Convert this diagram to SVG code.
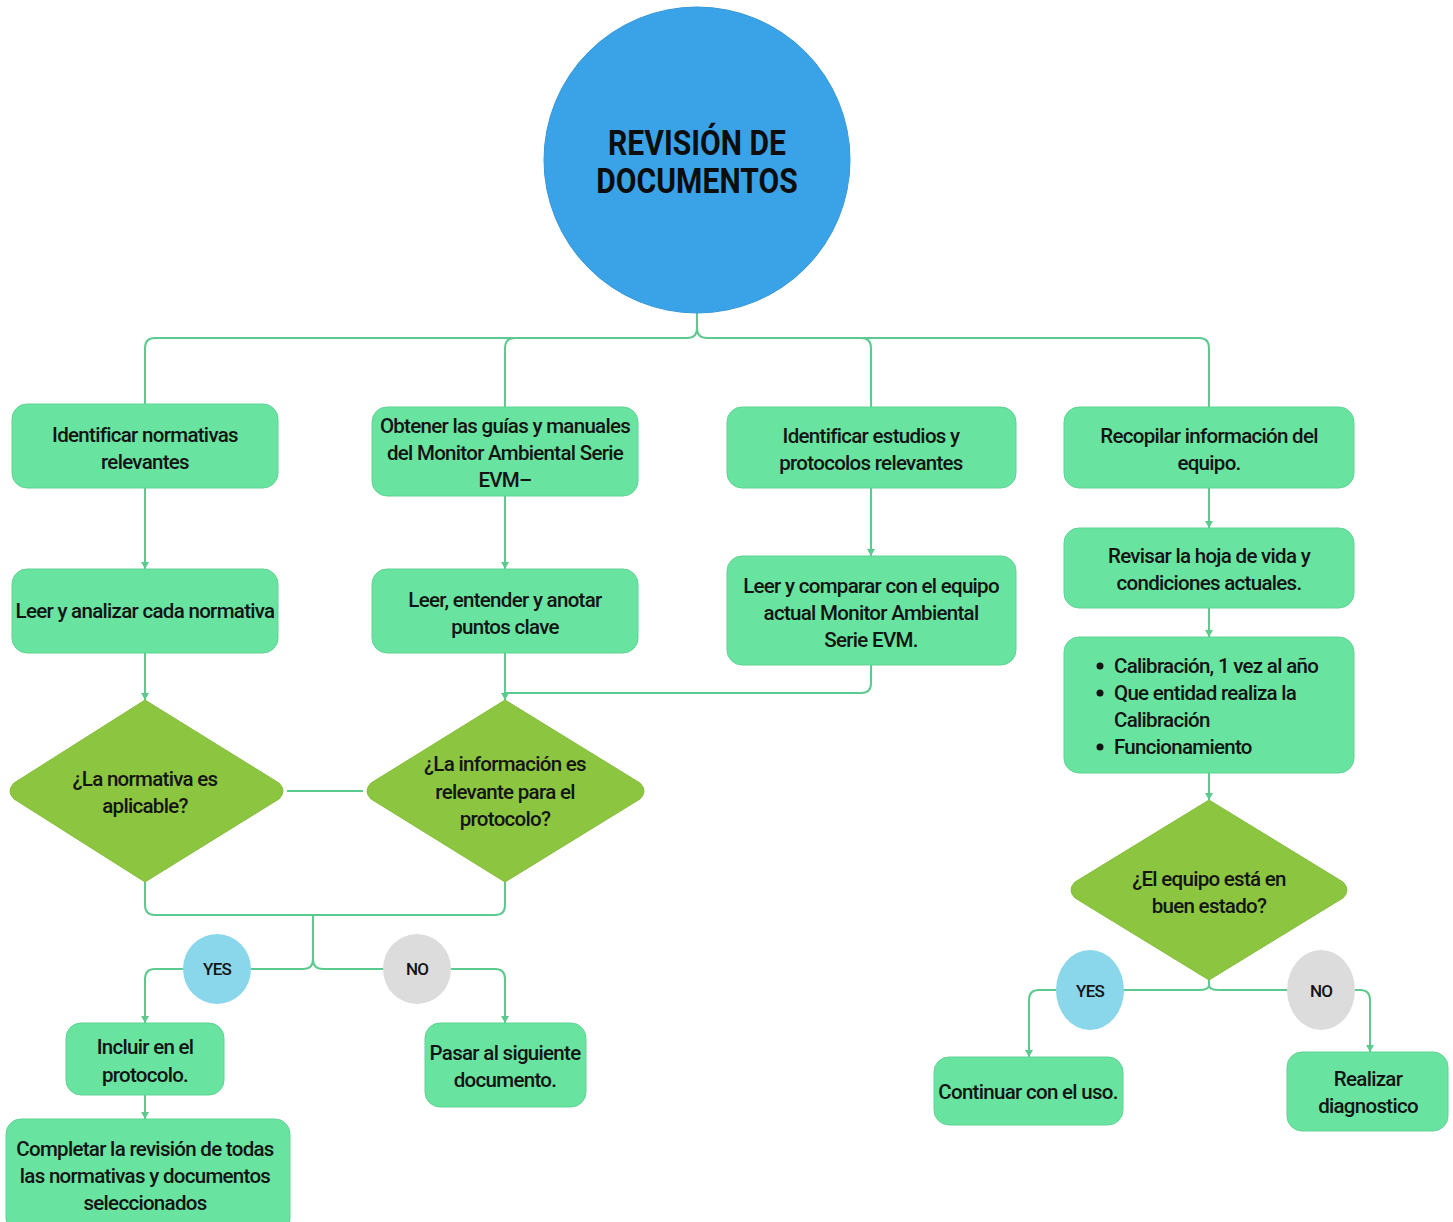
<svg xmlns="http://www.w3.org/2000/svg" width="1453" height="1222" viewBox="0 0 1453 1222">
<defs>
<style>
.box{fill:#69E3A0;stroke:#5ED394;stroke-width:1}
.dia{fill:#8CC640;stroke:#86BE3D;stroke-width:1;stroke-linejoin:round}
.t{font-family:Roboto,"Liberation Sans",sans-serif;font-size:20.5px;font-weight:500;fill:#141414;text-anchor:middle;letter-spacing:-0.7px}
.tl{text-anchor:start}
.lbl{font-family:Roboto,"Liberation Sans",sans-serif;font-size:17px;font-weight:500;fill:#141414;text-anchor:middle;letter-spacing:-0.8px}
.title{font-family:Roboto,"Liberation Sans",sans-serif;font-size:35px;font-weight:bold;fill:#0d0d0d;text-anchor:middle}
.c{fill:none;stroke:#5CC98F;stroke-width:2}
</style>
<marker id="ad" markerUnits="userSpaceOnUse" markerWidth="10" markerHeight="8" refX="5" refY="8" orient="0" viewBox="0 0 10 8">
<path d="M1,1 L9,1 L5,8 Z" fill="#5CC98F"/>
</marker>
</defs>
<rect width="1453" height="1222" fill="#ffffff"/>

<g id="connectors">
<path class="c" d="M697,313 V328 Q697,338 687,338 H155 Q145,338 145,348 V404"/>
<path class="c" d="M697,328 Q697,338 707,338 H1199 Q1209,338 1209,348 V407"/>
<path class="c" d="M515,338 Q505,338 505,348 V407"/>
<path class="c" d="M861,338 Q871,338 871,348 V407"/>
<path class="c" d="M145,488 V569" marker-end="url(#ad)"/>
<path class="c" d="M505,496 V569" marker-end="url(#ad)"/>
<path class="c" d="M871,488 V556" marker-end="url(#ad)"/>
<path class="c" d="M145,653 V700" marker-end="url(#ad)"/>
<path class="c" d="M505,653 V700" marker-end="url(#ad)"/>
<path class="c" d="M871,665 V683 Q871,693 861,693 H505"/>
<path class="c" d="M287,791 H363"/>
<path class="c" d="M145,882 V905 Q145,915 155,915 H495 Q505,915 505,905 V882"/>
<path class="c" d="M313,915 V959 Q313,969 303,969 H251"/>
<path class="c" d="M313,959 Q313,969 323,969 H384"/>
<path class="c" d="M183,969 H155 Q145,969 145,979 V1023" marker-end="url(#ad)"/>
<path class="c" d="M451,969 H495 Q505,969 505,979 V1023" marker-end="url(#ad)"/>
<path class="c" d="M145,1095 V1119" marker-end="url(#ad)"/>
<path class="c" d="M1209,488 V528" marker-end="url(#ad)"/>
<path class="c" d="M1209,608 V637" marker-end="url(#ad)"/>
<path class="c" d="M1209,773 V800" marker-end="url(#ad)"/>
<path class="c" d="M1209,980 V985 Q1209,990 1199,990 H1124"/>
<path class="c" d="M1209,985 Q1209,990 1219,990 H1288"/>
<path class="c" d="M1056,990 H1039 Q1029,990 1029,1000 V1057" marker-end="url(#ad)"/>
<path class="c" d="M1355,990 H1360 Q1370,990 1370,1000 V1052" marker-end="url(#ad)"/>
</g>

<g id="n-title">
<circle cx="697" cy="160" r="153" fill="#3AA3E8" stroke="#3597D8" stroke-width="1"/>
<g transform="translate(697,0) scale(0.86,1)">
<text class="title" x="0" y="155">REVISIÓN DE</text>
<text class="title" x="0" y="193">DOCUMENTOS</text>
</g>
</g>

<g id="n-ident-norm">
<rect class="box" x="12" y="404" width="266" height="84" rx="15"/>
<text class="t" x="145" y="442">Identificar normativas</text>
<text class="t" x="145" y="469">relevantes</text>
</g>
<g id="n-obtener">
<rect class="box" x="372" y="407" width="266" height="89" rx="15"/>
<text class="t" x="505" y="433">Obtener las guías y manuales</text>
<text class="t" x="505" y="460">del Monitor Ambiental Serie</text>
<text class="t" x="505" y="487">EVM–</text>
</g>
<g id="n-ident-est">
<rect class="box" x="727" y="407" width="289" height="81" rx="15"/>
<text class="t" x="871" y="443">Identificar estudios y</text>
<text class="t" x="871" y="470">protocolos relevantes</text>
</g>
<g id="n-recopilar">
<rect class="box" x="1064" y="407" width="290" height="81" rx="15"/>
<text class="t" x="1209" y="443">Recopilar información del</text>
<text class="t" x="1209" y="470">equipo.</text>
</g>
<g id="n-leer-norm">
<rect class="box" x="12" y="569" width="266" height="84" rx="15"/>
<text class="t" x="145" y="618">Leer y analizar cada normativa</text>
</g>
<g id="n-leer-ent">
<rect class="box" x="372" y="569" width="266" height="84" rx="15"/>
<text class="t" x="505" y="607">Leer, entender y anotar</text>
<text class="t" x="505" y="634">puntos clave</text>
</g>
<g id="n-leer-comp">
<rect class="box" x="727" y="556" width="289" height="109" rx="15"/>
<text class="t" x="871" y="593">Leer y comparar con el equipo</text>
<text class="t" x="871" y="620">actual Monitor Ambiental</text>
<text class="t" x="871" y="647">Serie EVM.</text>
</g>
<g id="n-revisar">
<rect class="box" x="1064" y="528" width="290" height="80" rx="15"/>
<text class="t" x="1209" y="563">Revisar la hoja de vida y</text>
<text class="t" x="1209" y="590">condiciones actuales.</text>
</g>
<g id="n-bullets">
<rect class="box" x="1064" y="637" width="290" height="136" rx="15"/>
<circle cx="1100" cy="666" r="3.5" fill="#141414"/>
<circle cx="1100" cy="693" r="3.5" fill="#141414"/>
<circle cx="1100" cy="747" r="3.5" fill="#141414"/>
<text class="t tl" x="1114" y="673">Calibración, 1 vez al año</text>
<text class="t tl" x="1114" y="700">Que entidad realiza la</text>
<text class="t tl" x="1114" y="727">Calibración</text>
<text class="t tl" x="1114" y="754">Funcionamiento</text>
</g>

<g id="d-normativa">
<path class="dia" d="M145,700 L279,783 Q287,791 279,799 L145,882 L14,799 Q6,791 14,783 Z"/>
<text class="t" x="145" y="786">¿La normativa es</text>
<text class="t" x="145" y="813">aplicable?</text>
</g>
<g id="d-informacion">
<path class="dia" d="M505,700 L640,783 Q648,791 640,799 L505,882 L371,799 Q363,791 371,783 Z"/>
<text class="t" x="505" y="771">¿La información es</text>
<text class="t" x="505" y="799">relevante para el</text>
<text class="t" x="505" y="826">protocolo?</text>
</g>
<g id="d-equipo">
<path class="dia" d="M1209,800 L1343,882 Q1351,890 1343,898 L1209,980 L1075,898 Q1067,890 1075,882 Z"/>
<text class="t" x="1209" y="886">¿El equipo está en</text>
<text class="t" x="1209" y="913">buen estado?</text>
</g>

<g id="l-yes1">
<ellipse cx="217" cy="969" rx="34" ry="35" fill="#8AD6EA"/>
<text class="lbl" x="217" y="975">YES</text>
</g>
<g id="l-no1">
<ellipse cx="417" cy="969" rx="34" ry="35" fill="#DCDCDC"/>
<text class="lbl" x="417" y="975">NO</text>
</g>
<g id="l-yes2">
<ellipse cx="1090" cy="990" rx="34" ry="40" fill="#8AD6EA"/>
<text class="lbl" x="1090" y="997">YES</text>
</g>
<g id="l-no2">
<ellipse cx="1321" cy="990" rx="34" ry="40" fill="#DCDCDC"/>
<text class="lbl" x="1321" y="997">NO</text>
</g>

<g id="n-incluir">
<rect class="box" x="66" y="1023" width="158" height="72" rx="15"/>
<text class="t" x="145" y="1054">Incluir en el</text>
<text class="t" x="145" y="1082">protocolo.</text>
</g>
<g id="n-completar">
<rect class="box" x="6" y="1119" width="284" height="115" rx="15"/>
<text class="t" x="145" y="1156">Completar la revisión de todas</text>
<text class="t" x="145" y="1183">las normativas y documentos</text>
<text class="t" x="145" y="1210">seleccionados</text>
</g>
<g id="n-pasar">
<rect class="box" x="425" y="1023" width="161" height="84" rx="15"/>
<text class="t" x="505" y="1060">Pasar al siguiente</text>
<text class="t" x="505" y="1087">documento.</text>
</g>
<g id="n-continuar">
<rect class="box" x="934" y="1057" width="189" height="68" rx="15"/>
<text class="t" x="1028" y="1099">Continuar con el uso.</text>
</g>
<g id="n-realizar">
<rect class="box" x="1287" y="1052" width="161" height="79" rx="15"/>
<text class="t" x="1368" y="1086">Realizar</text>
<text class="t" x="1368" y="1113">diagnostico</text>
</g>
</svg>
